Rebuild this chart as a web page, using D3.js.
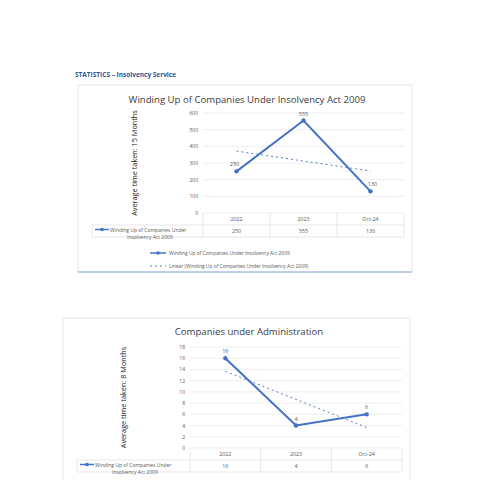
<!DOCTYPE html><html><head><meta charset="utf-8"><script src="https://cdn.jsdelivr.net/npm/d3@7"></script>
<style>body{margin:0;background:#fff}text{font-family:"Open Sans",sans-serif;font-weight:400}</style></head><body>
<svg id="c" width="480" height="480"></svg>
<script>
const categories=["2022","2023","Oct-24"];
const windingValues=[250,555,130];
const adminValues=[16,4,6];
const windingTicks=[0,100,200,300,400,500,600];
const adminTicks=[0,2,4,6,8,10,12,14,16,18];
const seriesName="Winding Up of Companies Under Insolvency Act 2009";
const blue="#4472c4", grey="#595959";
const svg=d3.select("#c");
svg.append("text").attr("x",75).attr("y",77).attr("font-size",6.5).style("font-weight","bold").attr("fill","#2f5597").text("STATISTICS – Insolvency Service");

function trend(v){const n=v.length,mx=(n-1)/2,my=d3.mean(v);let a=0,b=0;v.forEach((y,i)=>{a+=(i-mx)*(y-my);b+=(i-mx)*(i-mx)});const s=a/b;return v.map((_,i)=>my+s*(i-mx));}

function chart(o){
  const g=svg.append("g");
  g.append("rect").attr("x",o.bx).attr("y",o.by).attr("width",o.bw).attr("height",o.bh).attr("fill","#fff").attr("stroke","#d9d9d9").attr("stroke-width",0.7);
  if(o.blueBottom) g.append("line").attr("x1",o.bx).attr("x2",o.bx+o.bw).attr("y1",o.by+o.bh).attr("y2",o.by+o.bh).attr("stroke","#8eaadb").attr("stroke-width",1.2);
  g.append("text").attr("x",o.tx).attr("y",o.ty).attr("text-anchor","middle").attr("font-size",9.6).attr("fill","#404040").text(o.title);
  const x=d3.scaleBand().domain(categories).range([o.x0,o.x1]);
  const y=d3.scaleLinear().domain([0,d3.max(o.ticks)]).range([o.y0,o.y1]);
  g.append("g").selectAll("line").data(o.ticks).join("line").attr("x1",o.x0).attr("x2",o.x1).attr("y1",d=>y(d)).attr("y2",d=>y(d)).attr("stroke","#e3e3e3").attr("stroke-width",0.6);
  g.append("g").selectAll("text").data(o.ticks).join("text").attr("x",o.x0-5).attr("y",d=>y(d)+2).attr("text-anchor","end").attr("font-size",5).attr("fill",grey).text(d=>d);
  g.append("text").attr("transform",`translate(${o.ax},${(o.y0+o.y1)/2}) rotate(-90)`).attr("text-anchor","middle").attr("font-size",7.3).attr("fill","#222").text(o.axisTitle);
  const rh=o.rh, t0=o.y0;
  const tl=g.append("g").attr("stroke","#d9d9d9").attr("stroke-width",0.6);
  tl.append("line").attr("x1",o.lx).attr("x2",o.x1).attr("y1",t0+rh).attr("y2",t0+rh);
  tl.append("line").attr("x1",o.lx).attr("x2",o.x1).attr("y1",t0+2*rh).attr("y2",t0+2*rh);
  tl.append("line").attr("x1",o.lx).attr("x2",o.lx).attr("y1",t0+rh).attr("y2",t0+2*rh);
  [o.x0,...categories.map(c=>x(c)+x.bandwidth())].forEach(v=>tl.append("line").attr("x1",v).attr("x2",v).attr("y1",t0).attr("y2",t0+2*rh));
  g.selectAll(".cat").data(categories).join("text").attr("x",c=>x(c)+x.bandwidth()/2).attr("y",t0+rh/2+2).attr("text-anchor","middle").attr("font-size",5.3).attr("fill",grey).text(c=>c);
  g.selectAll(".val").data(o.values).join("text").attr("x",(d,i)=>x(categories[i])+x.bandwidth()/2).attr("y",t0+rh*1.5+2).attr("text-anchor","middle").attr("font-size",5.3).attr("fill",grey).text(d=>d);
  g.append("line").attr("x1",o.lx+3).attr("x2",o.lx+17).attr("y1",t0+rh+4.5).attr("y2",t0+rh+4.5).attr("stroke",blue).attr("stroke-width",1.5);
  g.append("circle").attr("cx",o.lx+10).attr("cy",t0+rh+4.5).attr("r",1.8).attr("fill",blue);
  g.append("text").attr("x",o.lx+18).attr("y",t0+rh+6.5).attr("font-size",5).attr("fill",grey).text("Winding Up of Companies Under");
  g.append("text").attr("x",o.lx+35).attr("y",t0+rh+13.5).attr("font-size",5).attr("fill",grey).text("Insolvency Act 2009");
  const tr=trend(o.values);
  g.append("path").datum(tr).attr("d",d3.line().x((d,i)=>x(categories[i])+x.bandwidth()/2).y(d=>y(d))).attr("fill","none").attr("stroke",blue).attr("stroke-width",0.9).attr("stroke-dasharray","2,3");
  g.append("path").datum(o.values).attr("d",d3.line().x((d,i)=>x(categories[i])+x.bandwidth()/2).y(d=>y(d))).attr("fill","none").attr("stroke",blue).attr("stroke-width",2);
  g.selectAll(".pt").data(o.values).join("circle").attr("cx",(d,i)=>x(categories[i])+x.bandwidth()/2).attr("cy",d=>y(d)).attr("r",2.2).attr("fill",blue);
  g.selectAll(".lbl").data(o.values).join("text").attr("x",(d,i)=>x(categories[i])+x.bandwidth()/2+(o.lblDx[i]||0)).attr("y",d=>y(d)-5).attr("text-anchor","middle").attr("font-size",5.5).attr("fill",grey).text(d=>d);
  if(o.legend){
    const ly=o.legend;
    g.append("line").attr("x1",150).attr("x2",166).attr("y1",ly).attr("y2",ly).attr("stroke",blue).attr("stroke-width",1.5);
    g.append("circle").attr("cx",158).attr("cy",ly).attr("r",1.8).attr("fill",blue);
    g.append("text").attr("x",169).attr("y",ly+2).attr("font-size",4.9).attr("fill",grey).text(seriesName);
    g.append("line").attr("x1",150).attr("x2",166).attr("y1",ly+13).attr("y2",ly+13).attr("stroke",blue).attr("stroke-width",0.9).attr("stroke-dasharray","2,3");
    g.append("text").attr("x",169).attr("y",ly+15).attr("font-size",4.9).attr("fill",grey).text("Linear (Winding Up of Companies Under Insolvency Act 2009)");
  }
}
chart({bx:78,by:85,bw:334,bh:187,blueBottom:true,title:"Winding Up of Companies Under Insolvency Act 2009",tx:247,ty:103,
  x0:203,x1:404,y0:213,y1:113,ticks:windingTicks,values:windingValues,ax:137,axisTitle:"Average time taken: 15 Months",
  rh:12,lx:92,lblDx:[-2,0,2],legend:253});
chart({bx:63,by:318,bw:347,bh:170,title:"Companies under Administration",tx:249,ty:335,
  x0:190,x1:402,y0:448,y1:347,ticks:adminTicks,values:adminValues,ax:126,axisTitle:"Average time taken: 8 Months",
  rh:12,lx:77,lblDx:[0,0,0]});
</script></body></html>
